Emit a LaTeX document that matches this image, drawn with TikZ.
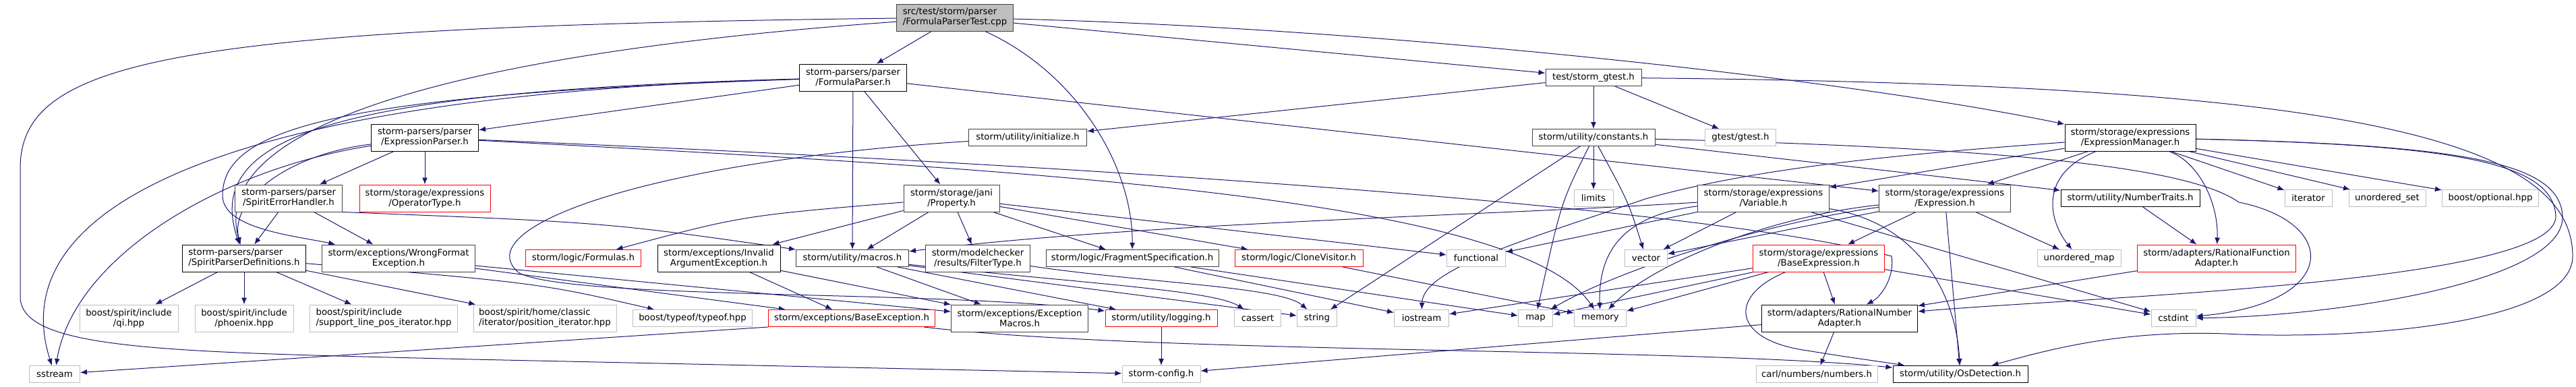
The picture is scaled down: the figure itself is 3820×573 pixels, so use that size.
\documentclass[tikz,border=0pt]{standalone}
\usepackage{fontspec}
\setmainfont{DejaVu Sans}
\usetikzlibrary{arrows.meta}
\definecolor{edgeblue}{HTML}{191970}
\definecolor{boxgrey}{HTML}{404040}
\definecolor{extgrey}{HTML}{BFBFBF}
\newcommand{\graphfont}{\fontsize{13.3pt}{15pt}\selectfont}
\pgfdeclarelayer{bg}
\pgfsetlayers{bg,main}

\begin{document}
\begin{tikzpicture}[x=1pt,y=-1pt,>=Latex,
  hdr/.style={draw,line width=1pt,fill=white,align=center,font=\graphfont,inner sep=0pt,minimum height=25pt},
  two/.style={minimum height=40pt},
  doc/.style={hdr,draw=black},
  docg/.style={hdr,draw=boxgrey},
  ext/.style={hdr,draw=extgrey},
  trunc/.style={hdr,draw=red},
  dep/.style={draw=edgeblue,line width=1pt,-{Latex[length=10pt,width=8pt]}}]
\useasboundingbox (0,0) rectangle (3820,573);

\node[docg,two,fill=extgrey,align=left,minimum width=173pt] (root) at (1416,26) {src/test/storm/parser\\/FormulaParserTest.cpp};
\node[doc,two,minimum width=159pt] (fparser) at (1265,115) {storm-parsers/parser\\/FormulaParser.h};
\node[docg,minimum width=142pt] (gtestStorm) at (2363,115) {test/storm\_gtest.h};
\node[doc,two,minimum width=194pt] (exprMgr) at (3159,204) {storm/storage/expressions\\/ExpressionManager.h};
\node[doc,two,minimum width=159pt] (exprparser) at (630,204) {storm-parsers/parser\\/ExpressionParser.h};
\node[docg,minimum width=175pt] (initialize) at (1524,204) {storm/utility/initialize.h};
\node[docg,minimum width=182pt] (constants) at (2363,204) {storm/utility/constants.h};
\node[ext,minimum width=105pt] (gtest) at (2581,204) {gtest/gtest.h};
\node[docg,two,minimum width=159pt] (spiritErr) at (428,294) {storm-parsers/parser\\/SpiritErrorHandler.h};
\node[trunc,two,minimum width=194pt] (opType) at (630,294) {storm/storage/expressions\\/OperatorType.h};
\node[docg,two,minimum width=142pt] (property) at (1411,294) {storm/storage/jani\\/Property.h};
\node[ext,minimum width=58pt] (limits) at (2363,294) {limits};
\node[docg,two,minimum width=195pt] (variable) at (2615,294) {storm/storage/expressions\\/Variable.h};
\node[docg,two,minimum width=195pt] (expression) at (2884,294) {storm/storage/expressions\\/Expression.h};
\node[doc,minimum width=206pt] (numTraits) at (3159,294) {storm/utility/NumberTraits.h};
\node[ext,minimum width=70pt] (iterator) at (3423,294) {iterator};
\node[ext,minimum width=114pt] (unorderedSet) at (3540,294) {unordered\_set};
\node[ext,minimum width=143pt] (optional) at (3693,294) {boost/optional.hpp};
\node[doc,two,align=left,minimum width=183pt] (spd) at (362,383) {storm-parsers/parser\\/SpiritParserDefinitions.h};
\node[docg,two,minimum width=227pt] (wrongFmt) at (591,383) {storm/exceptions/WrongFormat\\Exception.h};
\node[trunc,minimum width=171pt] (formulas) at (865,383) {storm/logic/Formulas.h};
\node[doc,two,minimum width=182pt] (invArg) at (1066,383) {storm/exceptions/Invalid\\ArgumentException.h};
\node[docg,minimum width=167pt] (macros) at (1264,383) {storm/utility/macros.h};
\node[docg,two,minimum width=155pt] (filterType) at (1450,383) {storm/modelchecker\\/results/FilterType.h};
\node[docg,minimum width=256pt] (fragSpec) at (1679,383) {storm/logic/FragmentSpecification.h};
\node[trunc,minimum width=190pt] (cloneVis) at (1926,383) {storm/logic/CloneVisitor.h};
\node[ext,minimum width=87pt] (functional) at (2189,383) {functional};
\node[ext,minimum width=63pt] (vector) at (2441,383) {vector};
\node[trunc,two,minimum width=195pt] (baseExpr) at (2697,383) {storm/storage/expressions\\/BaseExpression.h};
\node[ext,minimum width=124pt] (unorderedMap) at (3083,383) {unordered\_map};
\node[trunc,two,minimum width=235pt] (ratFunc) at (3287,383) {storm/adapters/RationalFunction\\Adapter.h};
\node[ext,two,minimum width=146pt] (qi) at (191,472) {boost/spirit/include\\/qi.hpp};
\node[ext,two,minimum width=146pt] (phoenix) at (362,472) {boost/spirit/include\\/phoenix.hpp};
\node[ext,two,align=left,minimum width=219pt] (suppLine) at (569,472) {boost/spirit/include\\/support\_line\_pos\_iterator.hpp};
\node[ext,two,align=left,minimum width=212pt] (posIter) at (808,472) {boost/spirit/home/classic\\/iterator/position\_iterator.hpp};
\node[ext,minimum width=177pt] (typeofH) at (1027,472) {boost/typeof/typeof.hpp};
\node[trunc,minimum width=247pt] (baseExc) at (1263,472) {storm/exceptions/BaseException.h};
\node[docg,two,minimum width=203pt] (excMacros) at (1512,472) {storm/exceptions/Exception\\Macros.h};
\node[trunc,minimum width=166pt] (logging) at (1722,472) {storm/utility/logging.h};
\node[ext,minimum width=69pt] (cassert) at (1865,472) {cassert};
\node[ext,minimum width=59pt] (string) at (1953,472) {string};
\node[ext,minimum width=81pt] (iostream) at (2108,472) {iostream};
\node[ext,minimum width=51pt] (map) at (2277,472) {map};
\node[ext,minimum width=77pt] (memory) at (2373,472) {memory};
\node[doc,two,minimum width=231pt] (ratNum) at (2728,472) {storm/adapters/RationalNumber\\Adapter.h};
\node[ext,minimum width=66pt] (cstdint) at (3223,472) {cstdint};
\node[ext,minimum width=75pt] (sstream) at (81,555) {sstream};
\node[ext,minimum width=116pt] (config) at (1722,555) {storm-config.h};
\node[ext,minimum width=180pt] (carl) at (2694,555) {carl/numbers/numbers.h};
\node[doc,minimum width=200pt] (osDet) at (2907,555) {storm/utility/OsDetection.h};

\begin{pgfonlayer}{bg}
\draw[dep] (root) -- (fparser);
\draw[dep] (root) -- (gtestStorm);
\draw[dep] (root) .. controls (2000,40) and (2700,110) .. (exprMgr);
\draw[dep] (root) .. controls (800,70) and (300,160) .. (spd);
\draw[dep] (root) .. controls (250,40) and (30,90) .. (30,250) -- (30,440) .. controls (30,520) and (250,522) .. (700,533) -- (config);
\draw[dep] (root) .. controls (1600,110) and (1680,250) .. (fragSpec);
\draw[dep] (fparser) -- (exprparser);
\draw[dep] (fparser) -- (property);
\draw[dep] (fparser) -- (macros);
\draw[dep] (fparser) -- (expression);
\draw[dep] (fparser) .. controls (500,135) and (300,200) .. (spd);
\draw[dep] (fparser) .. controls (350,140) and (0,300) .. (sstream);
\draw[dep] (fparser) .. controls (500,140) and (330,190) .. (330,290) .. controls (330,340) and (440,350) .. (wrongFmt);
\draw[dep] (exprparser) -- (spiritErr);
\draw[dep] (exprparser) -- (opType);
\draw[dep] (exprparser) .. controls (420,230) and (340,300) .. (spd);
\draw[dep] (exprparser) .. controls (330,250) and (110,380) .. (sstream);
\draw[dep] (exprparser) .. controls (1500,240) and (2500,300) .. (2805,380) .. controls (2810,410) and (2790,440) .. (ratNum);
\draw[dep] (exprparser) .. controls (1500,250) and (2250,290) .. (memory);
\draw[dep] (spiritErr) -- (spd);
\draw[dep] (spiritErr) -- (wrongFmt);
\draw[dep] (spiritErr.south east) .. controls (900,330) .. (macros.north west);
\draw[dep] (spd) -- (qi);
\draw[dep] (spd) -- (phoenix);
\draw[dep] (spd) -- (suppLine);
\draw[dep] (spd) -- (posIter);
\draw[dep] (spd) .. controls (800,420) .. (typeofH);
\draw[dep] (wrongFmt) -- (baseExc);
\draw[dep] (wrongFmt) -- (excMacros);
\draw[dep] (invArg) -- (baseExc);
\draw[dep] (invArg) -- (excMacros);
\draw[dep] (baseExc.south west) -- (sstream);
\draw[dep] (baseExc) .. controls (1700,525) and (2500,515) .. (osDet);
\draw[dep] (property) -- (macros);
\draw[dep] (property) -- (filterType);
\draw[dep] (property) -- (fragSpec);
\draw[dep] (property) -- (cloneVis);
\draw[dep] (property) -- (invArg);
\draw[dep] (property) -- (functional);
\draw[dep] (property) .. controls (1100,320) .. (formulas);
\draw[dep] (macros) -- (logging);
\draw[dep] (macros) -- (excMacros);
\draw[dep] (macros) -- (string);
\draw[dep] (macros) .. controls (1600,420) and (1800,430) .. (cassert);
\draw[dep] (logging) -- (config);
\draw[dep] (initialize) .. controls (950,240) and (690,340) .. (770,405) .. controls (850,445) and (1400,430) .. (logging);
\draw[dep] (filterType) .. controls (1700,420) and (1900,425) .. (string);
\draw[dep] (fragSpec) -- (iostream);
\draw[dep] (fragSpec) -- (map);
\draw[dep] (cloneVis) -- (memory);
\draw[dep] (gtestStorm) -- (constants);
\draw[dep] (gtestStorm) -- (gtest);
\draw[dep] (gtestStorm) -- (initialize);
\draw[dep] (gtestStorm) .. controls (3400,125) and (3815,190) .. (3815,380) .. controls (3815,480) and (3500,505) .. (3300,495) .. controls (3150,490) and (3050,515) .. (osDet);
\draw[dep] (constants) -- (limits);
\draw[dep] (constants) -- (string);
\draw[dep] (constants) -- (numTraits);
\draw[dep] (constants) .. controls (2315,300) .. (map);
\draw[dep] (constants) .. controls (2415,300) .. (vector);
\draw[dep] (constants) .. controls (3000,220) and (3250,250) .. (3320,300) .. controls (3470,330) and (3470,450) .. (cstdint);
\draw[dep] (numTraits) -- (ratFunc);
\draw[dep] (exprMgr) -- (variable);
\draw[dep] (exprMgr) -- (expression);
\draw[dep] (exprMgr) -- (iterator);
\draw[dep] (exprMgr) -- (unorderedSet);
\draw[dep] (exprMgr) -- (optional);
\draw[dep] (exprMgr) .. controls (3020,260) and (3040,330) .. (unorderedMap);
\draw[dep] (exprMgr) .. controls (3260,240) and (3290,300) .. (ratFunc);
\draw[dep] (exprMgr) .. controls (2800,230) and (2600,250) .. (2440,295) .. controls (2250,360) and (2110,400) .. (iostream);
\draw[dep] (exprMgr) .. controls (3650,215) and (3795,240) .. (3800,320) .. controls (3805,420) and (3450,470) .. (cstdint);
\draw[dep] (exprMgr) .. controls (3640,215) and (3785,240) .. (3790,320) .. controls (3795,420) and (3100,440) .. (ratNum);
\draw[dep] (variable) -- (functional);
\draw[dep] (variable) -- (vector);
\draw[dep] (variable) -- (cstdint);
\draw[dep] (variable) .. controls (2200,320) and (1700,330) .. (macros);
\draw[dep] (variable) .. controls (2400,320) and (2370,380) .. (memory);
\draw[dep] (variable) .. controls (2840,330) and (2900,430) .. (osDet);
\draw[dep] (expression) -- (baseExpr);
\draw[dep] (expression) -- (osDet);
\draw[dep] (expression) -- (unorderedMap);
\draw[dep] (expression) -- (vector);
\draw[dep] (expression) .. controls (2620,330) and (2400,400) .. (map);
\draw[dep] (expression) .. controls (2630,320) and (2450,390) .. (memory);
\draw[dep] (baseExpr) -- (ratNum);
\draw[dep] (baseExpr) -- (cstdint);
\draw[dep] (baseExpr) -- (map);
\draw[dep] (baseExpr) -- (memory);
\draw[dep] (baseExpr) -- (iostream);
\draw[dep] (baseExpr) .. controls (2560,440) and (2570,505) .. (2680,520) .. controls (2740,530) and (2780,535) .. (osDet);
\draw[dep] (ratFunc) -- (ratNum);
\draw[dep] (ratNum) -- (carl);
\draw[dep] (ratNum) -- (config);
\end{pgfonlayer}
\end{tikzpicture}
\end{document}
